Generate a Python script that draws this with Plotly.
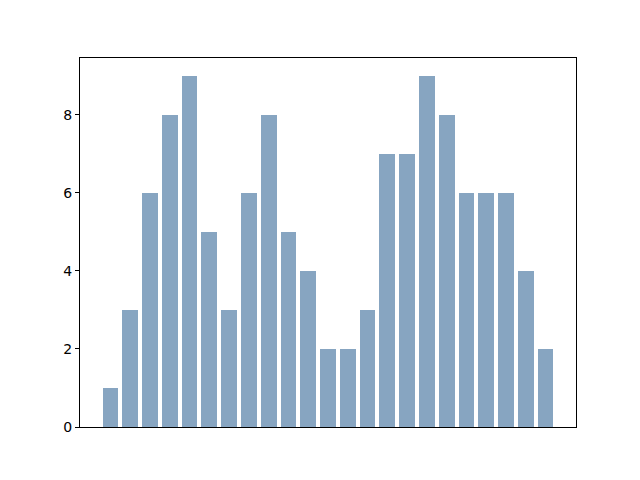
import plotly.graph_objects as go

categories = list(range(23))
values = [1, 3, 6, 8, 9, 5, 3, 6, 8, 5, 4, 2, 2, 3, 7, 7, 9, 8, 6, 6, 6, 4, 2]
y_ticks = [0, 2, 4, 6, 8]

fig = go.Figure(go.Bar(
    x=categories, y=values, width=0.8,
    marker=dict(color="rgb(135,165,193)", line=dict(width=0)),
))

fig.update_layout(
    width=640, height=480,
    margin=dict(l=72, r=72, t=50, b=61),
    plot_bgcolor="white", paper_bgcolor="white",
    font=dict(family="DejaVu Sans", size=14, color="black"),
    showlegend=False,
    bargap=0,
)
fig.update_xaxes(range=[-1.54, 23.54], showticklabels=False, ticks="",
                 showgrid=False, zeroline=False, showline=True, linecolor="black",
                 linewidth=1, mirror=True)
fig.update_yaxes(range=[0, 9.45], tickvals=y_ticks, ticks="outside", ticklen=4,
                 tickcolor="black", showgrid=False, zeroline=False, showline=True,
                 linecolor="black", linewidth=1, mirror=True)

fig.write_html("out.html")
